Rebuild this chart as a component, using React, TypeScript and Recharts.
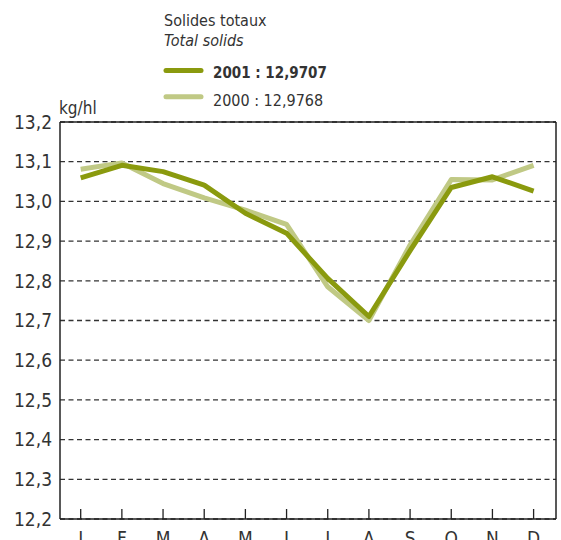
import React from "react";
import { LineChart, Line, XAxis, YAxis, CartesianGrid } from "recharts";

const months = ["J", "F", "M", "A", "M", "J", "J", "A", "S", "O", "N", "D"];
const values2001 = [13.059, 13.091, 13.075, 13.041, 12.97, 12.92, 12.806, 12.71, 12.876, 13.035, 13.062, 13.026];
const values2000 = [13.081, 13.097, 13.045, 13.009, 12.978, 12.942, 12.785, 12.70, 12.89, 13.055, 13.054, 13.091];
const yTicks = [12.2, 12.3, 12.4, 12.5, 12.6, 12.7, 12.8, 12.9, 13.0, 13.1, 13.2];
const titleFr = "Solides totaux";
const titleEn = "Total solids";
const label2001 = "2001 : 12,9707";
const label2000 = "2000 : 12,9768";
const unit = "kg/hl";

const data = months.map((m, i) => ({ key: `${m}${i}`, month: m, y2001: values2001[i], y2000: values2000[i] }));

const FONT = "'Liberation Sans Narrow', 'DejaVu Sans Condensed', sans-serif";
const DARK = "#8a9a0e";
const LIGHT = "#c0c985";
const INK = "#333";
const AXIS = { stroke: "#222", strokeWidth: 1.5 };

const XTick = (props: any) => {
  const { x, y, payload } = props;
  return (
    <g>
      <line x1={x} y1={y} x2={x} y2={y - 10} stroke="#222" strokeWidth={1.3} />
      <text x={x} y={y + 26} textAnchor="middle" fontSize={19} fill={INK} fontFamily={FONT}>
        {months[payload.index] ?? ""}
      </text>
    </g>
  );
};

export default function App() {
  return (
    <div style={{ position: "absolute", left: 0, top: 0, width: 561, height: 560, background: "#fff" }}>
      <LineChart
        width={561}
        height={560}
        data={data}
        margin={{ top: 121, right: 4, left: 0, bottom: 0 }}
      >
        <CartesianGrid vertical={false} stroke={INK} strokeWidth={1.3} strokeDasharray="5 3.5" />
        <XAxis
          dataKey="key"
          type="category"
          height={41}
          padding={{ left: 20.7, right: 22.4 }}
          axisLine={AXIS}
          tickLine={false}
          tickSize={0}
          tickMargin={0}
          tick={<XTick />}
          interval={0}
        />
        <XAxis xAxisId="top" orientation="top" dataKey="key" height={1} tick={false} tickLine={false} axisLine={AXIS} />
        <YAxis
          domain={[12.2, 13.2]}
          ticks={yTicks}
          width={60}
          interval={0}
          axisLine={AXIS}
          tickLine={false}
          tickSize={0}
          tickMargin={8}
          tick={{ fontSize: 19, fill: INK, fontFamily: FONT }}
          tickFormatter={(v: number) => v.toFixed(1).replace(".", ",")}
          allowDataOverflow
        />
        <YAxis yAxisId="right" orientation="right" width={1} domain={[12.2, 13.2]} tick={false} tickLine={false} axisLine={AXIS} />
        <Line type="linear" dataKey="y2000" name={label2000} stroke={LIGHT} strokeWidth={5} dot={false} activeDot={false} strokeLinejoin="round" isAnimationActive={false} />
        <Line type="linear" dataKey="y2001" name={label2001} stroke={DARK} strokeWidth={5} dot={false} activeDot={false} strokeLinejoin="round" isAnimationActive={false} />
      </LineChart>
      <svg style={{ position: "absolute", left: 0, top: 0 }} width={561} height={120}>
        <g fontFamily={FONT} fill={INK}>
          <text x={164} y={26} fontSize={16}>{titleFr}</text>
          <text x={164} y={46} fontSize={16} fontStyle="italic">{titleEn}</text>
          <line x1={166} y1={70.5} x2={201} y2={70.5} stroke={DARK} strokeWidth={5} strokeLinecap="round" />
          <line x1={166} y1={96.7} x2={201} y2={96.7} stroke={LIGHT} strokeWidth={5} strokeLinecap="round" />
          <text x={213} y={78} fontSize={15} fontWeight="bold">{label2001}</text>
          <text x={213} y={106} fontSize={16}>{label2000}</text>
          <text x={59} y={114} fontSize={17}>{unit}</text>
        </g>
      </svg>
    </div>
  );
}
